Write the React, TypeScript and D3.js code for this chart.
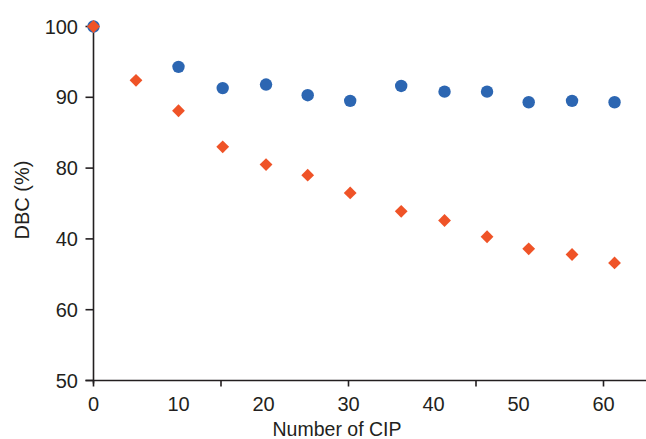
import React, { useEffect, useRef } from "react";
import * as d3 from "d3";

// CIP cycle number for each measurement
const orangeCycles = [0, 5, 10, 15.2, 20.3, 25.2, 30.2, 36.2, 41.3, 46.3, 51.2, 56.3, 61.3];
const orangeDBC = [100, 92.4, 88.1, 83.0, 80.5, 79.0, 76.5, 73.9, 72.6, 70.3, 68.6, 67.8, 66.6];

const blueCycles = [0, 10, 15.2, 20.3, 25.2, 30.2, 36.2, 41.3, 46.3, 51.2, 56.3, 61.3];
const blueDBC = [100, 94.3, 91.3, 91.8, 90.3, 89.5, 91.6, 90.8, 90.8, 89.3, 89.5, 89.3];

const yTickValues = [100, 90, 80, 70, 60, 50];
const yTickLabels = ["100", "90", "80", "40", "60", "50"];
const xLabelValues = [0, 10, 20, 30, 40, 50, 60];
const xTickValues = [0, 15, 30, 45, 60];

function App() {
  const svgRef = useRef<SVGSVGElement>(null);

  useEffect(() => {
    const width = 646;
    const height = 439;
    const ink = "#231f20";
    const font = "'Liberation Sans', Arial, Helvetica, sans-serif";

    const svg = d3.select(svgRef.current);
    svg.selectAll("*").remove();
    svg.attr("width", width).attr("height", height);

    const x = d3.scaleLinear().domain([0, 60]).range([93.5, 603.5]);
    const y = d3.scaleLinear().domain([50, 100]).range([380.5, 26.5]);

    const axes = svg.append("g").attr("stroke", ink).attr("stroke-width", 1.6);

    // y axis line + ticks
    axes.append("line")
      .attr("x1", x(0)).attr("x2", x(0))
      .attr("y1", y(100) - 3).attr("y2", y(50) + 3);
    axes.selectAll("line.ytick")
      .data(yTickValues)
      .enter()
      .append("line")
      .attr("class", "ytick")
      .attr("x1", x(0) - 8).attr("x2", x(0))
      .attr("y1", d => y(d)).attr("y2", d => y(d));

    // x axis line + ticks
    axes.append("line")
      .attr("x1", x(0) - 8).attr("x2", width)
      .attr("y1", y(50)).attr("y2", y(50));
    axes.selectAll("line.xtick")
      .data(xTickValues)
      .enter()
      .append("line")
      .attr("class", "xtick")
      .attr("x1", d => x(d)).attr("x2", d => x(d))
      .attr("y1", y(50)).attr("y2", y(50) + 6);

    const labels = svg.append("g")
      .attr("fill", ink)
      .attr("font-family", font)
      .attr("font-size", 20);

    labels.selectAll("text.ylab")
      .data(yTickValues)
      .enter()
      .append("text")
      .attr("class", "ylab")
      .attr("x", 78)
      .attr("y", d => y(d) + 7)
      .attr("text-anchor", "end")
      .text((d, i) => yTickLabels[i]);

    labels.selectAll("text.xlab")
      .data(xLabelValues)
      .enter()
      .append("text")
      .attr("class", "xlab")
      .attr("x", d => x(d))
      .attr("y", 410.5)
      .attr("text-anchor", "middle")
      .text(d => String(d));

    labels.append("text")
      .attr("x", 337)
      .attr("y", 436)
      .attr("text-anchor", "middle")
      .attr("font-size", 19.5)
      .text("Number of CIP");

    labels.append("text")
      .attr("transform", "translate(29,200) rotate(-90)")
      .attr("text-anchor", "middle")
      .attr("font-size", 20)
      .text("DBC (%)");

    // blue circles
    svg.append("g")
      .selectAll("circle")
      .data(blueCycles.map((c, i) => [c, blueDBC[i]]))
      .enter()
      .append("circle")
      .attr("cx", d => x(d[0]))
      .attr("cy", d => y(d[1]))
      .attr("r", 6.2)
      .attr("fill", "#2c66b2");

    // orange diamonds
    const diamond = d3.symbol().type(d3.symbolSquare).size(82);
    svg.append("g")
      .selectAll("path")
      .data(orangeCycles.map((c, i) => [c, orangeDBC[i]]))
      .enter()
      .append("path")
      .attr("d", diamond)
      .attr("transform", d => `translate(${x(d[0])},${y(d[1])}) rotate(45)`)
      .attr("fill", "#ef5327");
  }, []);

  return (
    <svg
      ref={svgRef}
      style={{ position: "absolute", left: 0, top: 0, display: "block", background: "#fff" }}
    />
  );
}

export default App;
